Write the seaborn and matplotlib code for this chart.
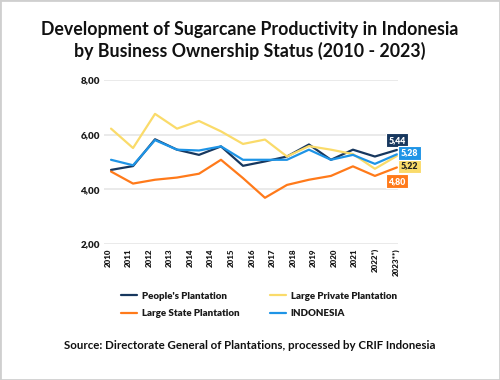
import matplotlib
matplotlib.use("Agg")
import matplotlib.pyplot as plt
from matplotlib.patches import Rectangle
import seaborn as sns
import numpy as np
import pandas as pd

# --- data (14 yearly points, 15 axis labels as printed) ---
year_labels = ["2010", "2011", "2012", "2013", "2014", "2014", "2015", "2016",
               "2017", "2018", "2019", "2020", "2021", "2022*)", "2023**)"]
peoples = [4.71, 4.85, 5.83, 5.45, 5.26, 5.57, 4.86, 5.02, 5.20, 5.64, 5.08, 5.45, 5.20, 5.44]
large_private = [6.22, 5.51, 6.76, 6.22, 6.50, 6.12, 5.66, 5.82, 5.20, 5.58, 5.45, 5.29, 4.75, 5.22]
large_state = [4.65, 4.21, 4.35, 4.43, 4.57, 5.08, 4.41, 3.69, 4.16, 4.35, 4.49, 4.84, 4.49, 4.80]
indonesia = [5.08, 4.88, 5.80, 5.45, 5.42, 5.57, 5.08, 5.08, 5.08, 5.45, 5.08, 5.26, 4.93, 5.28]

series_names = ["People's Plantation", "Large State Plantation",
                "Large Private Plantation", "INDONESIA"]
series_vals = [peoples, large_state, large_private, indonesia]
colors = {"People's Plantation": "#17375E",
          "Large State Plantation": "#FF7A1A",
          "Large Private Plantation": "#FADB6A",
          "INDONESIA": "#1E94E6"}

rows = []
for name, vals in zip(series_names, series_vals):
    for i, v in enumerate(vals):
        rows.append({"idx": i, "value": v, "series": name})
df = pd.DataFrame(rows)

sns.set_theme(style="white")
plt.rcParams["font.family"] = ["Lato", "DejaVu Sans"]
plt.rcParams["font.weight"] = "bold"

fig = plt.figure(figsize=(5, 3.8), dpi=100)
ax = fig.add_axes([0.208, 0.358, 0.588, 0.4315])

sns.lineplot(data=df, x="idx", y="value", hue="series", hue_order=series_names,
             palette=colors, linewidth=1.6, ax=ax)

ax.set_ylim(2, 8)
ax.set_yticks([2, 4, 6, 8])
ax.set_yticklabels(["2,00", "4,00", "6,00", "8,00"], fontsize=7, fontweight="heavy", color="#1a1a1a")
ax.set_xlim(-0.32, 13.05)
ax.set_xticks(np.linspace(-0.14, 12.95, len(year_labels)))
ax.set_xticklabels(year_labels, rotation=90, fontsize=5.8, fontweight="heavy", color="#1a1a1a")
ax.tick_params(axis="both", length=0, pad=3)
ax.grid(axis="y", color="#e6e6e6", linewidth=1.2)
ax.set_axisbelow(True)
for s in ax.spines.values():
    s.set_visible(False)
ax.set_xlabel("")
ax.set_ylabel("")

# end-of-line value boxes
last = len(peoples) - 1
offsets = {"People's Plantation": (0, 7, "white"),
           "INDONESIA": (9, 1, "white"),
           "Large Private Plantation": (9, -7, "#222222"),
           "Large State Plantation": (0, -10, "white")}
for name, vals in zip(series_names, series_vals):
    dx, dy, tc = offsets[name]
    ax.annotate(f"{vals[-1]:.2f}".replace(".", ","), xy=(last, vals[-1]),
                xytext=(dx, dy), textcoords="offset points", ha="center", va="center",
                fontsize=6.3, fontweight="heavy", color=tc, annotation_clip=False,
                bbox=dict(boxstyle="square,pad=0.3", fc=colors[name], ec="white", lw=0.8))

sns.move_legend(ax, "upper left", bbox_to_anchor=(0.225, 0.255), bbox_transform=fig.transFigure,
                ncol=2, title=None, frameon=False, fontsize=7, handlelength=1.6,
                handletextpad=0.5, columnspacing=3.2, labelspacing=0.85)
for t in ax.get_legend().get_texts():
    t.set_fontweight("heavy")
    t.set_color("#1a1a1a")

fig.text(0.5, 0.893, "Development of Sugarcane Productivity in Indonesia\nby Business Ownership Status (2010 - 2023)",
         ha="center", va="center", fontsize=12.8, fontweight="bold", color="#111111", linespacing=1.3)
fig.text(0.5, 0.092, "Source: Directorate General of Plantations, processed by CRIF Indonesia",
         ha="center", va="center", fontsize=8.3, fontweight="bold", color="#111111")

fig.patches.append(Rectangle((0, 0), 1, 1, transform=fig.transFigure, fill=False,
                             edgecolor="#cfcfcf", linewidth=2))

fig.savefig("out.png", dpi=100, facecolor="white")
